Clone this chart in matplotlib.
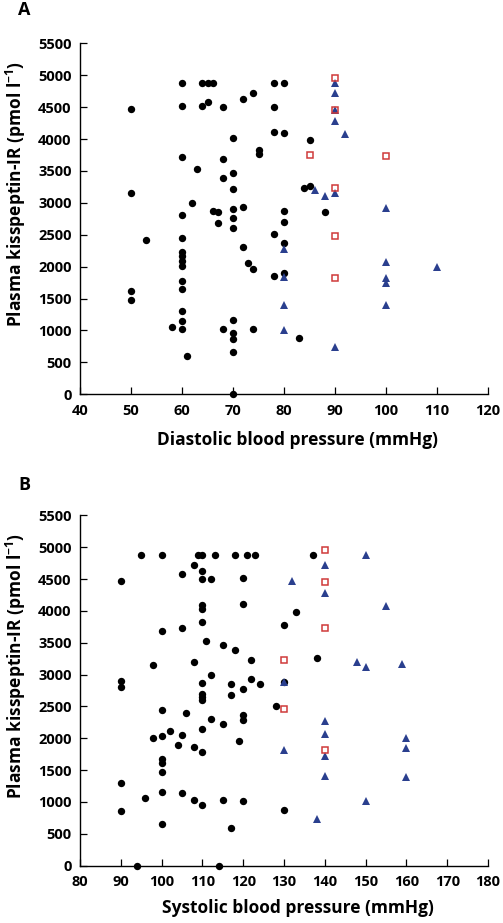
import matplotlib
matplotlib.use("Agg")
import matplotlib.pyplot as plt

FONT = ['Open Sans', 'DejaVu Sans']
plt.rcParams['font.family'] = FONT
plt.rcParams['font.weight'] = 'bold'
plt.rcParams['mathtext.fontset'] = 'custom'
plt.rcParams['mathtext.rm'] = 'Open Sans:bold'
plt.rcParams['mathtext.it'] = 'Open Sans:bold'
plt.rcParams['mathtext.bf'] = 'Open Sans:bold'
plt.rcParams['mathtext.default'] = 'rm'

# ---------------- Panel A: diastolic ----------------
dbp_circle = [60, 64, 65, 66, 78, 80,
              74, 72, 65, 50, 60, 64, 68, 78,
              78, 80, 85, 70, 60, 75, 75, 68, 63, 70, 68, 70, 50, 84, 85, 62,
              60, 66, 67, 70, 70, 70, 72, 67, 80, 80, 78, 53, 60, 80,
              60, 60, 60, 60, 72, 73, 74, 78, 80, 60, 60, 50, 50, 60, 60, 58,
              60, 70, 68, 74, 70, 70, 83, 70, 61, 70, 88]
kiss_dbp_circle = [4875, 4875, 4875, 4875, 4875, 4875,
                   4727, 4624, 4581, 4472, 4514, 4514, 4508, 4508,
                   4111, 4091, 3990, 4022, 3724, 3829, 3766, 3683, 3531, 3473, 3386, 3213, 3160, 3233, 3265, 3003,
                   2815, 2878, 2862, 2904, 2759, 2611, 2941, 2680, 2878, 2700, 2508, 2418, 2455, 2367,
                   2235, 2168, 2089, 2016, 2313, 2063, 1964, 1854, 1897, 1781, 1646, 1614, 1478, 1306, 1154, 1060,
                   1023, 1165, 1023, 1023, 956, 867, 888, 658, 600, 0, 2852]

dbp_tri = [80, 80, 80, 80, 90, 90, 90, 90, 92, 86, 88, 90, 100, 100, 110, 100, 100, 100, 90]
kiss_dbp_tri = [2277, 1843, 1400, 1008, 4875, 4722, 4450, 4284, 4080, 3207, 3113, 3160,
                2920, 2079, 2000, 1818, 1740, 1400, 746]

dbp_sq = [90, 90, 85, 100, 90, 90, 90]
kiss_dbp_sq = [4953, 4456, 3750, 3740, 3229, 2481, 1823]

# ---------------- Panel B: systolic ----------------
sbp_circle = [95, 100, 109, 110, 113, 118, 121, 123, 137,
              108, 105, 110, 110, 112, 120, 90, 110, 110, 120,
              133, 110, 130, 105, 100, 111, 115, 118, 138, 122,
              98, 108, 112, 110, 117, 122, 124, 120, 90, 90,
              130, 110, 110, 110, 117, 128, 100, 106, 112, 115,
              120, 120, 110, 102, 105, 98, 100, 104, 108, 110,
              119, 100, 100, 100, 90, 100, 96, 105, 108, 110,
              115, 120, 90, 130, 100, 117, 94, 114]
kiss_sbp_circle = [4875, 4875, 4875, 4875, 4875, 4875, 4875, 4875, 4875,
                   4724, 4583, 4619, 4498, 4498, 4509, 4467, 4086, 4024, 4107,
                   3987, 3820, 3772, 3726, 3683, 3533, 3470, 3386, 3266, 3229,
                   3150, 3204, 3000, 2875, 2859, 2926, 2848, 2774, 2900, 2806,
                   2884, 2702, 2650, 2597, 2676, 2508, 2440, 2393, 2310, 2232,
                   2373, 2284, 2142, 2116, 2059, 2012, 2037, 1892, 1856, 1777,
                   1965, 1667, 1605, 1473, 1301, 1150, 1066, 1144, 1030, 951,
                   1025, 1019, 862, 873, 658, 596, 0, 0]

sbp_tri = [132, 130, 130, 150, 140, 140, 155, 148, 150, 159, 140, 140, 160, 160, 140, 140, 160, 150, 138]
kiss_sbp_tri = [4462, 2884, 1813, 4870, 4713, 4274, 4070, 3204, 3119, 3161, 2268, 2075,
                1997, 1840, 1724, 1406, 1395, 1014, 732]

sbp_sq = [140, 140, 140, 130, 130, 140]
kiss_sbp_sq = [4948, 4447, 3736, 3224, 2467, 1813]

y_ticks = list(range(0, 5501, 500))
xticks_a = list(range(40, 121, 10))
xticks_b = list(range(80, 181, 10))

ylabel = r'Plasma kisspeptin-IR (pmol l$^{-1}$)'
xlabel_a = 'Diastolic blood pressure (mmHg)'
xlabel_b = 'Systolic blood pressure (mmHg)'

BLUE = '#2a3f8e'
RED = '#cf3a3a'

W, H = 503, 923
fig = plt.figure(figsize=(W / 100, H / 100), dpi=100)

ax_a = fig.add_axes([80 / W, 1 - 394.3 / H, 408 / W, 351 / H])
ax_b = fig.add_axes([80 / W, 1 - 865.7 / H, 408 / W, 350.4 / H])


def draw(ax, xc, yc, xt, yt, xs, ys, xticks, xlabel, xlab_y):
    ax.plot(xc, yc, 'o', color='black', ms=5.3, mew=0, clip_on=False, zorder=3)
    ax.plot(xt, yt, '^', color=BLUE, ms=5.4, mew=0, clip_on=False, zorder=4)
    ax.plot(xs, ys, 's', mfc='none', mec=RED, ms=4.6, mew=1.1, clip_on=False, zorder=5)
    ax.set_xlim(xticks[0], xticks[-1])
    ax.set_ylim(0, 5500)
    ax.set_xticks(xticks)
    ax.set_yticks(y_ticks)
    ax.set_xticklabels([str(v) for v in xticks], fontweight='bold')
    ax.set_yticklabels([str(v) for v in y_ticks], fontweight='bold')
    for s in ['top', 'right']:
        ax.spines[s].set_visible(False)
    for s in ['left', 'bottom']:
        ax.spines[s].set_linewidth(1.0)
        ax.spines[s].set_color('black')
    ax.tick_params(axis='both', direction='in', length=5, width=0.9, labelsize=10.5, colors='black')
    ax.tick_params(axis='y', pad=6)
    ax.tick_params(axis='x', pad=7)
    ax.set_ylabel(ylabel, fontsize=12.5, fontweight='bold')
    ax.yaxis.set_label_coords(-0.128, 0.57)
    ax.set_xlabel(xlabel, fontsize=12.5, fontweight='bold')
    ax.xaxis.set_label_coords(0.534, xlab_y)


draw(ax_a, dbp_circle, kiss_dbp_circle, dbp_tri, kiss_dbp_tri, dbp_sq, kiss_dbp_sq,
     xticks_a, xlabel_a, -0.105)
draw(ax_b, sbp_circle, kiss_sbp_circle, sbp_tri, kiss_sbp_tri, sbp_sq, kiss_sbp_sq,
     xticks_b, xlabel_b, -0.095)

fig.text(18 / W, 1 - 10 / H, 'A', fontsize=13, fontweight='bold', va='center', ha='left')
fig.text(18 / W, 1 - 485 / H, 'B', fontsize=13, fontweight='bold', va='center', ha='left')

fig.savefig('out.png', dpi=100, facecolor='white')
